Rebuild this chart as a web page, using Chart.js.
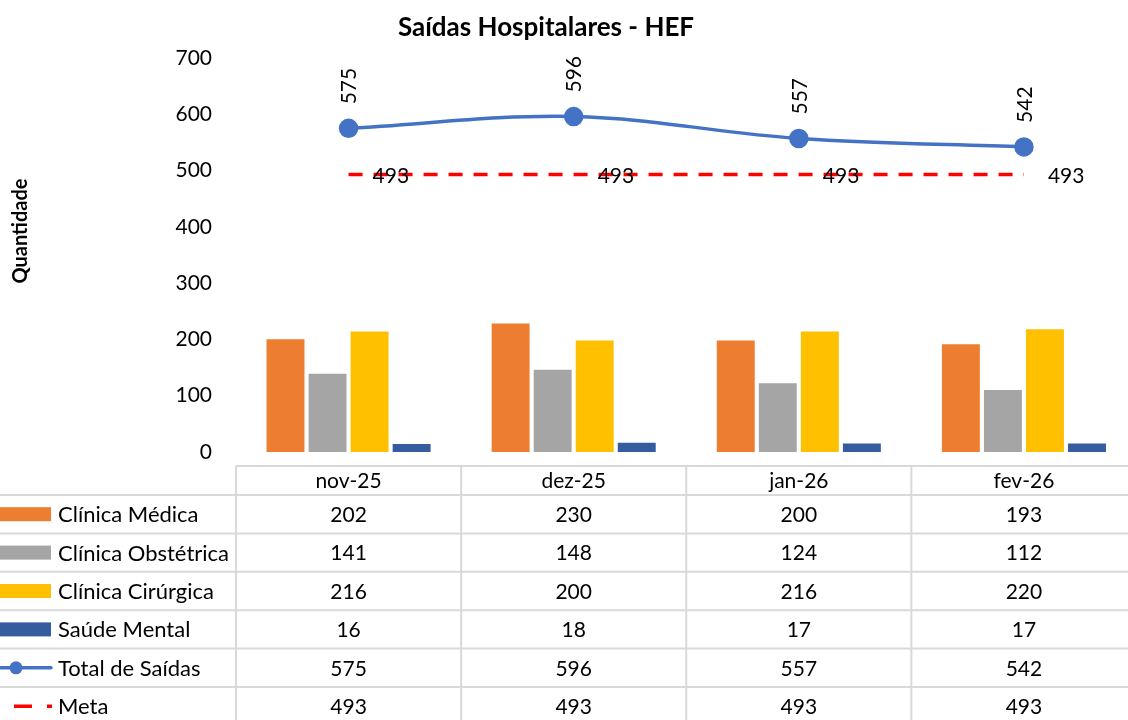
<!DOCTYPE html>
<html>
<head>
<meta charset="utf-8">
<script src="https://cdn.jsdelivr.net/npm/chart.js@4/dist/chart.umd.min.js"></script>
<style>
  html, body { margin: 0; padding: 0; background: #fff; overflow: hidden; }
  #wrap { width: 1128px; height: 720px; overflow: hidden; position: relative; }
</style>
</head>
<body>
<div id="wrap"><canvas id="graph" width="1148" height="720"></canvas></div>
<script>
// dados
const months = ["nov-25", "dez-25", "jan-26", "fev-26"];
const clinicaMedica = [202, 230, 200, 193];
const clinicaObstetrica = [141, 148, 124, 112];
const clinicaCirurgica = [216, 200, 216, 220];
const saudeMental = [16, 18, 17, 17];
const totalSaidas = [575, 596, 557, 542];
const meta = [493, 493, 493, 493];
const yMin = 0, yMax = 700, yStep = 100;

const FONT = "Lato, 'Liberation Sans', sans-serif";
const FS = 21;
const GRID = "#d9d9d9";

// rótulos de dados (total girado, meta à direita)
const valueLabels = {
  id: "valueLabels",
  afterDatasetsDraw(chart) {
    const ctx = chart.ctx;
    ctx.save();
    ctx.fillStyle = "#000";
    ctx.font = FS + "px " + FONT;
    chart.getDatasetMeta(4).data.forEach((el, i) => {
      ctx.save();
      ctx.translate(el.x + 1, el.y - 24);
      ctx.rotate(-Math.PI / 2);
      ctx.textAlign = "left";
      ctx.textBaseline = "middle";
      ctx.fillText(String(totalSaidas[i]), 0, 0);
      ctx.restore();
    });
    chart.getDatasetMeta(5).data.forEach((el, i) => {
      ctx.textAlign = "left";
      ctx.textBaseline = "middle";
      ctx.fillText(String(meta[i]), el.x + 24, el.y + 2);
    });
    ctx.restore();
  },
};

// tabela de dados abaixo do gráfico + títulos
const dataTable = {
  id: "dataTable",
  afterDraw(chart) {
    const ctx = chart.ctx;
    const x = chart.scales.x;
    const colW = (x.right - x.left) / months.length;
    const top = 466, headBottom = 495, rowH = 38.4;
    const rows = chart.data.datasets;

    ctx.save();
    ctx.strokeStyle = GRID;
    ctx.lineWidth = 2;
    ctx.beginPath();
    ctx.moveTo(x.left, top);
    ctx.lineTo(x.right, top);
    for (let k = 0; k < rows.length; k++) {
      const yy = headBottom + k * rowH;
      ctx.moveTo(0, yy);
      ctx.lineTo(x.right, yy);
    }
    for (let i = 0; i < months.length; i++) {
      const xx = x.left + i * colW;
      ctx.moveTo(xx, top);
      ctx.lineTo(xx, 720);
    }
    ctx.stroke();

    ctx.fillStyle = "#000";
    ctx.font = FS + "px " + FONT;
    ctx.textAlign = "center";
    ctx.textBaseline = "middle";
    months.forEach((m, i) => {
      ctx.fillText(m, x.getPixelForValue(i), (top + headBottom) / 2 + 1);
    });

    rows.forEach((ds, r) => {
      const cy = headBottom + rowH * (r + 0.5) + 1;
      ctx.font = FS + "px " + FONT;
      ds.data.forEach((v, i) => {
        ctx.textAlign = "center";
        ctx.fillText(String(v), x.getPixelForValue(i), cy);
      });
      // chave da legenda
      if (ds.type === "line") {
        ctx.save();
        ctx.strokeStyle = ds.borderColor;
        ctx.lineWidth = 3.5;
        if (ds.borderDash) {
          ctx.setLineDash([18, 15]);
          ctx.beginPath();
          ctx.moveTo(14, cy - 1);
          ctx.lineTo(52, cy - 1);
          ctx.stroke();
        } else {
          ctx.lineCap = "round";
          ctx.beginPath();
          ctx.moveTo(1, cy - 1);
          ctx.lineTo(51, cy - 1);
          ctx.stroke();
          ctx.fillStyle = ds.borderColor;
          ctx.beginPath();
          ctx.arc(16, cy - 1, 6.5, 0, Math.PI * 2);
          ctx.fill();
        }
        ctx.restore();
      } else {
        ctx.fillStyle = ds.backgroundColor;
        ctx.fillRect(0, cy - 8, 51, 14);
        ctx.fillStyle = "#000";
      }
      ctx.textAlign = "left";
      ctx.font = "22px " + FONT;
      ctx.fillText(ds.label, 58, cy);
    });

    // título do gráfico
    ctx.font = "bold 26px " + FONT;
    ctx.textAlign = "center";
    ctx.fillText("Saídas Hospitalares - HEF", 546, 28);

    // título do eixo y
    ctx.save();
    ctx.font = "bold 20px " + FONT;
    ctx.translate(21, 231);
    ctx.rotate(-Math.PI / 2);
    ctx.textAlign = "center";
    ctx.fillText("Quantidade", 0, 0);
    ctx.restore();
    ctx.restore();
  },
};

const barOpts = {
  borderColor: "#ffffff",
  borderWidth: 1,
  categoryPercentage: 0.747,
  barPercentage: 0.95,
};

new Chart(document.getElementById("graph"), {
  data: {
    labels: months,
    datasets: [
      { type: "bar", label: "Clínica Médica", data: clinicaMedica, backgroundColor: "#ED7D31", ...barOpts, order: 2 },
      { type: "bar", label: "Clínica Obstétrica", data: clinicaObstetrica, backgroundColor: "#A5A5A5", ...barOpts, order: 2 },
      { type: "bar", label: "Clínica Cirúrgica", data: clinicaCirurgica, backgroundColor: "#FFC000", ...barOpts, order: 2 },
      { type: "bar", label: "Saúde Mental", data: saudeMental, backgroundColor: "#355C9F", ...barOpts, order: 2 },
      {
        type: "line", label: "Total de Saídas", data: totalSaidas,
        borderColor: "#4472C4", backgroundColor: "#4472C4", borderWidth: 3.5,
        pointRadius: 8, pointBackgroundColor: "#4472C4", pointBorderColor: "#4472C4",
        tension: 0.35, order: 1,
      },
      {
        type: "line", label: "Meta", data: meta,
        borderColor: "#FF0000", backgroundColor: "#FF0000", borderWidth: 3.5,
        borderDash: [14, 11], pointRadius: 0, order: 1,
      },
    ],
  },
  options: {
    responsive: false,
    animation: false,
    devicePixelRatio: 1,
    layout: { padding: { left: 0, right: 0, top: 58, bottom: 268 } },
    scales: {
      x: { display: false, offset: true },
      y: {
        min: yMin, max: yMax,
        afterFit(axis) { axis.width = 236; },
        grid: { display: false, drawTicks: false },
        border: { display: false },
        ticks: { stepSize: yStep, padding: 24, color: "#000", font: { family: FONT, size: FS } },
      },
    },
    plugins: {
      legend: { display: false },
      tooltip: { enabled: false },
      title: { display: false },
    },
  },
  plugins: [valueLabels, dataTable],
});
</script>
</body>
</html>
